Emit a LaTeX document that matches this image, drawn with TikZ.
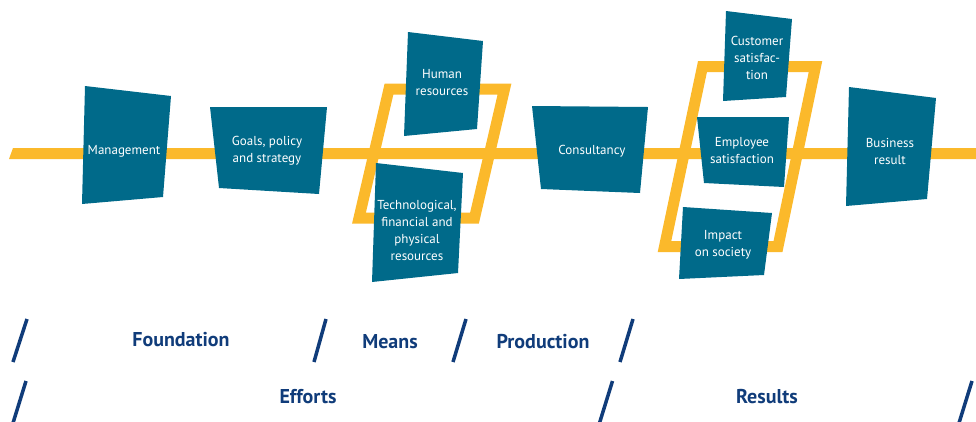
\documentclass[tikz,border=0pt]{standalone}
\usepackage{fontspec}
\setmainfont{PT Sans}
\definecolor{boxteal}{RGB}{0,106,138}
\definecolor{yband}{RGB}{251,185,43}
\definecolor{lblblue}{RGB}{16,60,122}
\begin{document}
\begin{tikzpicture}[x=1pt,y=-1pt,
  boxfill/.style={fill=boxteal},
  boxtext/.style={text=white,font=\fontsize{13}{17}\selectfont,align=center,inner sep=0pt},
  yframe/.style={draw=yband,line width=11pt,line join=miter},
  lbl/.style={text=lblblue,font=\fontsize{20}{24}\selectfont\bfseries,inner sep=0pt},
  slashline/.style={draw=lblblue,line width=3.5pt}]
\useasboundingbox (0,0) rectangle (976,421);
% main yellow line
\fill[fill=yband] (9,159) -- (13,148) -- (976,148) -- (976,159) -- cycle;
% frames
\draw[yframe] (389,89) -- (504.5,89) -- (474.5,218) -- (359,218) -- cycle;
\draw[yframe] (702.5,66.5) -- (815.5,66.5) -- (778,246.5) -- (664.5,246.5) -- cycle;
% boxes
\fill[boxfill] (85,86) -- (171,96) -- (163,197) -- (82,204) -- cycle;
\fill[boxfill] (210,107) -- (327,107) -- (319,194) -- (219,188) -- cycle;
\fill[boxfill] (408,32) -- (483,41) -- (477,129) -- (404,136) -- cycle;
\fill[boxfill] (376,163) -- (463,173) -- (458,273) -- (372,282) -- cycle;
\fill[boxfill] (532,106) -- (648,107) -- (640,193) -- (541,189) -- cycle;
\fill[boxfill] (726,11) -- (792,19) -- (786,97) -- (723,101) -- cycle;
\fill[boxfill] (697,117) -- (789,117) -- (784,187) -- (704,183) -- cycle;
\fill[boxfill] (683,207) -- (772,213) -- (764,275) -- (679,279) -- cycle;
\fill[boxfill] (849,87) -- (936,98) -- (927,199) -- (846,206) -- cycle;
% box texts
\node[boxtext] (mgmt) at (124,151) {Management};
\node[boxtext] (goals) at (267,151) {Goals, policy\\and strategy};
\node[boxtext] (human) at (442,83) {Human\\resources};
\node[boxtext] (tech) at (417,230) {Technological,\\financial and\\physical\\resources};
\node[boxtext] (cons) at (592,151) {Consultancy};
\node[boxtext] (cust) at (757,58) {Customer\\satisfac-\\tion};
\node[boxtext] (empl) at (742,151) {Employee\\satisfaction};
\node[boxtext] (impact) at (723,245) {Impact\\on society};
\node[boxtext] (biz) at (890,151) {Business\\result};
% bottom labels
\node[lbl] (found) at (181,340) {Foundation};
\node[lbl] (means) at (390,342) {Means};
\node[lbl] (prod) at (543,342) {Production};
\node[lbl] (eff) at (308,397) {Efforts};
\node[lbl] (res) at (767,397) {Results};
% slashes
\draw[slashline] (27,319) -- (13,362);
\draw[slashline] (326,319) -- (314,362);
\draw[slashline] (466,319) -- (453,362);
\draw[slashline] (633,319) -- (620,362);
\draw[slashline] (26,381) -- (13,423);
\draw[slashline] (612.5,381) -- (599.5,423);
\draw[slashline] (972,381) -- (959,423);
\end{tikzpicture}
\end{document}
